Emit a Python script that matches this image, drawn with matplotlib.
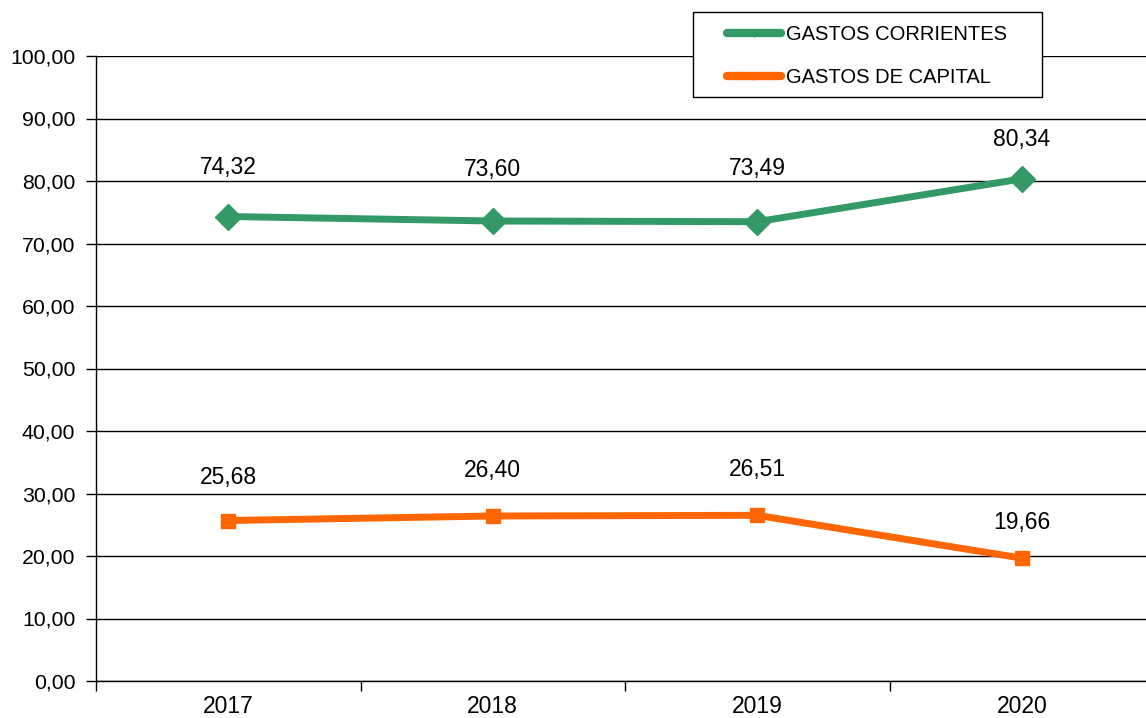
import matplotlib.pyplot as plt
from matplotlib.lines import Line2D
from matplotlib.patches import Rectangle

years = ['2017', '2018', '2019', '2020']
corrientes = [74.32, 73.60, 73.49, 80.34]
capital = [25.68, 26.40, 26.51, 19.66]

# label offsets above each point (points)
off_corr = [35, 37, 38, 28]
off_cap = [31, 33, 33, 26]

plt.rcParams['font.family'] = ['Liberation Sans', 'DejaVu Sans']
plt.rcParams['font.size'] = 16.5

green = '#339966'
orange = '#ff6600'

fig = plt.figure(figsize=(11.46, 7.18), dpi=100)
ax = fig.add_axes([96 / 1146, 37 / 718, 1058 / 1146, 625 / 718])

x = [i + 0.5 for i in range(len(years))]

ax.plot(x, corrientes, color=green, lw=5, marker='D', markersize=13, zorder=3)
ax.plot(x, capital, color=orange, lw=5, marker='s', markersize=10, zorder=3)

# data labels above the points
for xi, v, o in zip(x, corrientes, off_corr):
    ax.annotate(f'{v:.2f}'.replace('.', ','), (xi, v), xytext=(0, o),
                textcoords='offset points', ha='center', va='center')
for xi, v, o in zip(x, capital, off_cap):
    ax.annotate(f'{v:.2f}'.replace('.', ','), (xi, v), xytext=(0, o),
                textcoords='offset points', ha='center', va='center')

ax.set_ylim(0, 100)
ax.set_xlim(0, 4)
ax.set_yticks(range(0, 101, 10))
ax.set_yticklabels([f'{v:.2f}'.replace('.', ',') for v in range(0, 101, 10)])
ax.set_xticks(range(5))
ax.set_xticklabels([])
ax.set_xticks(x, minor=True)
ax.set_xticklabels(years, minor=True)
ax.tick_params(axis='x', which='minor', length=0, pad=10)
ax.tick_params(axis='x', which='major', length=7, width=1)
ax.tick_params(axis='y', length=7, width=1, pad=8, labelsize=15.3)

ax.grid(axis='y', color='black', lw=1)
ax.set_axisbelow(True)
ax.spines['top'].set_visible(False)
ax.spines['right'].set_visible(False)
ax.spines['left'].set_linewidth(1)
ax.spines['bottom'].set_linewidth(1)

# legend box
fig.patches.append(Rectangle((693 / 1146, 1 - 97 / 718), 349 / 1146, 85 / 718,
                             transform=fig.transFigure, facecolor='white',
                             edgecolor='black', lw=1, zorder=5))

handles = [
    Line2D([], [], color=green, lw=6, marker='|', markersize=6, solid_capstyle='round'),
    Line2D([], [], color=orange, lw=6, marker='s', markersize=5, solid_capstyle='round'),
]
leg = fig.legend(handles, ['GASTOS CORRIENTES', 'GASTOS DE CAPITAL'],
                 loc='upper left', bbox_to_anchor=(727 / 1146, 1 - 25 / 718),
                 frameon=False, fontsize=14.5,
                 handlelength=2.7, handletextpad=0.25, labelspacing=1.2,
                 borderpad=0, borderaxespad=0)
leg.set_zorder(6)

fig.savefig('out.png', dpi=100)
